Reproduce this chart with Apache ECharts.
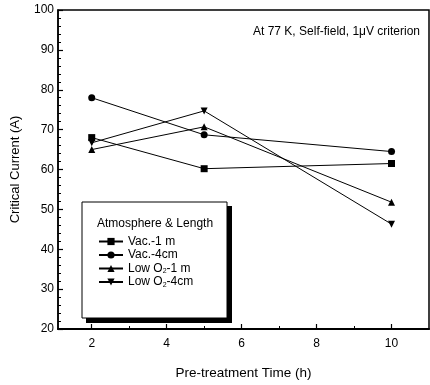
<!DOCTYPE html>
<html>
<head>
<meta charset="utf-8">
<script src="https://cdn.jsdelivr.net/npm/echarts@6/dist/echarts.min.js"></script>
<style>
  html, body { margin: 0; padding: 0; background: #fff; }
  #chart { width: 430px; height: 385px; }
</style>
</head>
<body>
<div id="chart"></div>
<script>
// pre-treatment time (h)
const times = [2, 5, 10]
const vac1m = [68, 60.2, 61.5]
const vac4cm = [78, 68.7, 64.5]
const lowO2_1m = [65, 70.7, 51.8]
const lowO2_4cm = [66.7, 74.7, 46.3]
const xMajor = [2, 4, 6, 8, 10]
const xMinor = [3, 5, 7, 9]
const seriesNames = ["Vac.-1 m", "Vac.-4cm", "Low O2-1 m", "Low O2-4cm"]

const font = "Liberation Sans, Arial, sans-serif"

function pts(ys) {
  return times.map((t, i) => [t, ys[i]])
}

function lineSeries(name, ys, symbol, rotate) {
  return {
    name: name,
    type: "line",
    data: pts(ys),
    symbol: symbol,
    symbolSize: 7,
    symbolRotate: rotate || 0,
    lineStyle: { color: "#000", width: 1 },
    itemStyle: { color: "#000" },
    emphasis: { disabled: true },
    z: 3
  }
}

let chart = echarts.init(document.getElementById("chart"))
chart.setOption({
  animation: false,
  grid: {
    left: 58, top: 10, right: 1, bottom: 56,
    show: true, borderColor: "#000", borderWidth: 1.5
  },
  xAxis: [{
    type: "value",
    min: 1.1,
    max: 11,
    name: "Pre-treatment Time (h)",
    nameLocation: "middle",
    nameGap: 37,
    nameTextStyle: { fontFamily: font, fontSize: 13.5, color: "#000" },
    axisLine: { lineStyle: { color: "#000", width: 2 } },
    axisTick: { inside: true, length: 5, customValues: xMajor, lineStyle: { color: "#000", width: 1.2 } },
    axisLabel: { customValues: xMajor, margin: 9, fontFamily: font, fontSize: 12, color: "#000" },
    splitLine: { show: false }
  }, {
    type: "value",
    min: 1.1,
    max: 11,
    position: "bottom",
    axisLine: { show: false },
    axisTick: { inside: true, length: 3, customValues: xMinor, lineStyle: { color: "#000" } },
    axisLabel: { show: false },
    splitLine: { show: false }
  }],
  yAxis: {
    type: "value",
    min: 20,
    max: 100,
    interval: 10,
    name: "Critical Current (A)",
    nameLocation: "middle",
    nameGap: 36,
    nameTextStyle: { fontFamily: font, fontSize: 13, color: "#000" },
    axisLine: { show: true, lineStyle: { color: "#000", width: 1.5 } },
    axisTick: { inside: true, length: 5, lineStyle: { color: "#000", width: 1.2 } },
    minorTick: { show: true, splitNumber: 5, length: 3, lineStyle: { color: "#000" } },
    axisLabel: { margin: 4, fontFamily: font, fontSize: 12, color: "#000" },
    splitLine: { show: false }
  },
  legend: {
    orient: "vertical",
    left: 93,
    top: 230,
    z: 20,
    itemWidth: 24,
    itemHeight: 9,
    itemGap: 0.5,
    data: seriesNames,
    textStyle: {
      fontFamily: font, fontSize: 12, lineHeight: 13, color: "#000",
      rich: {
        sub: { fontFamily: font, fontSize: 7, color: "#000", verticalAlign: "bottom", padding: [6, 0, 0, 0] }
      }
    },
    formatter: function (name) {
      return name.replace("O2", "O{sub|2}")
    },
    selectedMode: false
  },
  graphic: [
    { type: "rect", shape: { x: 86, y: 206, width: 146, height: 117 }, style: { fill: "#000" }, z: 10 },
    { type: "rect", shape: { x: 82, y: 202, width: 145, height: 116 }, style: { fill: "#fff", stroke: "#000", lineWidth: 1 }, z: 11 },
    { type: "text", left: 97, top: 218, style: { text: "Atmosphere & Length", fontFamily: font, fontSize: 12, fill: "#000" }, z: 12 },
    { type: "text", right: 10, top: 26, style: { text: "At 77 K, Self-field, 1\u03bcV criterion", fontFamily: font, fontSize: 12, fill: "#000" }, z: 12 }
  ],
  series: [
    lineSeries(seriesNames[0], vac1m, "rect"),
    lineSeries(seriesNames[1], vac4cm, "circle"),
    lineSeries(seriesNames[2], lowO2_1m, "triangle"),
    lineSeries(seriesNames[3], lowO2_4cm, "triangle", 180)
  ]
})
</script>
</body>
</html>
